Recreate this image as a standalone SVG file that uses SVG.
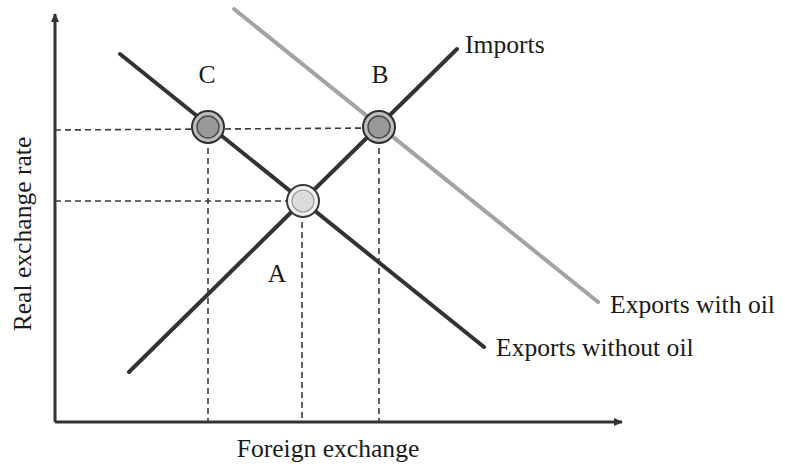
<svg xmlns="http://www.w3.org/2000/svg" width="785" height="468" viewBox="0 0 785 468">
<style>
text{font-family:"Liberation Serif","Times New Roman",serif;font-size:25.6px;fill:#1a1a1a}
.axis{stroke:#333;stroke-width:3;fill:none}
.curve{stroke:#333;stroke-width:4;stroke-linecap:round;fill:none}
.oil{stroke:#a3a3a3;stroke-width:4;stroke-linecap:round;fill:none}
.dash{stroke:#3a3a3a;stroke-width:1.6;stroke-dasharray:6 4;fill:none}
.ringD{fill:#bdbdbd;stroke:#2e2e2e;stroke-width:2}
.coreD{fill:#999;stroke:#4a4a4a;stroke-width:1.5}
.ringL{fill:#f2f2f2;stroke:#3a3a3a;stroke-width:2}
.coreL{fill:#dcdcdc;stroke:#9a9a9a;stroke-width:1.2}
</style>
<defs>
<marker id="arr" markerWidth="10" markerHeight="10" refX="8" refY="5" orient="auto" markerUnits="userSpaceOnUse">
<path d="M0,1 L9,5 L0,9 Z" fill="#333"/>
</marker>
</defs>
<g id="connectors">
<line class="axis" x1="55" y1="422" x2="55" y2="14" marker-end="url(#arr)"/>
<line class="axis" x1="55" y1="422" x2="622" y2="422" marker-end="url(#arr)"/>
<path class="dash" d="M55,130 L379,128"/>
<path class="dash" d="M55,201 L303,201"/>
<path class="dash" d="M208,128 L208,421"/>
<path class="dash" d="M302,202 L302,421"/>
<path class="dash" d="M379,128 L379,421"/>
<line class="oil" x1="234" y1="9" x2="598" y2="302"/>
<line class="curve" x1="129" y1="372" x2="457" y2="49"/>
<line class="curve" x1="120" y1="54" x2="484" y2="347"/>
</g>
<g id="node-C">
<circle class="ringD" cx="208" cy="127" r="16"/>
<circle class="coreD" cx="208" cy="127" r="11"/>
<text x="207" y="83" text-anchor="middle">C</text>
</g>
<g id="node-B">
<circle class="ringD" cx="379" cy="127" r="16"/>
<circle class="coreD" cx="379" cy="127" r="11"/>
<text x="380" y="83" text-anchor="middle">B</text>
</g>
<g id="node-A">
<circle class="ringL" cx="303" cy="201" r="16"/>
<circle class="coreL" cx="303" cy="201" r="11"/>
<text x="277" y="282" text-anchor="middle">A</text>
</g>
<g id="label-imports"><text x="465" y="53">Imports</text></g>
<g id="label-exports-oil"><text x="610" y="313">Exports with oil</text></g>
<g id="label-exports-nooil"><text x="496" y="356">Exports without oil</text></g>
<g id="label-x"><text x="328" y="457" text-anchor="middle">Foreign exchange</text></g>
<g id="label-y"><text transform="translate(31,234) rotate(-90)" text-anchor="middle">Real exchange rate</text></g>
</svg>
